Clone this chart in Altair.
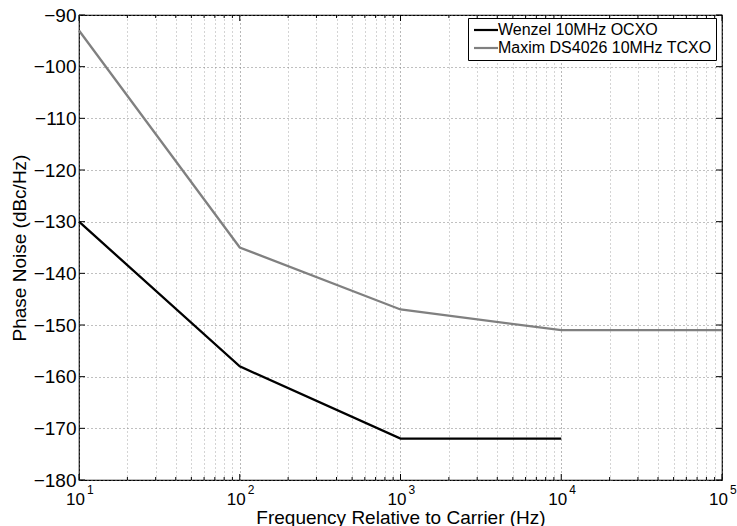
import altair as alt
import pandas as pd

# Phase noise curves (dBc/Hz) at offsets from the carrier (Hz)
ocxo_name = "Wenzel 10MHz OCXO"
ocxo_freq = [10, 100, 1000, 10000]
ocxo_pn = [-130, -158, -172, -172]

tcxo_name = "Maxim DS4026 10MHz TCXO"
tcxo_freq = [10, 100, 1000, 10000, 100000]
tcxo_pn = [-93, -135, -147, -151, -151]

decades = [10, 100, 1000, 10000, 100000]
exponents = ["1", "2", "3", "4", "5"]
y_ticks = [-90, -100, -110, -120, -130, -140, -150, -160, -170, -180]

W, H = 643, 465
FONT = "Liberation Sans"

minor = [m * d for d in decades[:-1] for m in range(2, 10)]
all_x = sorted(decades + minor)

curves = pd.DataFrame(
    {"freq": ocxo_freq + tcxo_freq,
     "pn": ocxo_pn + tcxo_pn,
     "series": [ocxo_name] * len(ocxo_freq) + [tcxo_name] * len(tcxo_freq)}
)
major_df = pd.DataFrame({"freq": decades, "exp": exponents, "base": ["10"] * len(decades)})
minor_df = pd.DataFrame({"freq": minor})
ytick_df = pd.DataFrame({"pn": y_ticks})

xscale = alt.Scale(type="log", domain=[10, 100000], nice=False)
yscale = alt.Scale(domain=[-180, -90], nice=False, zero=False)

is_decade = ("log(datum.value)/log(10) % 1 < 0.001 || "
             "log(datum.value)/log(10) % 1 > 0.999")

x_axis = alt.Axis(
    values=all_x, labels=False, ticks=False, domain=False,
    grid=True, gridDash=[1, 3], gridWidth=1,
    gridColor={"condition": {"test": is_decade, "value": "#707070"}, "value": "#a8a8a8"},
    title="Frequency Relative to Carrier (Hz)", titleFont=FONT, titleFontSize=19,
    titleFontWeight="normal", titleColor="black", titleBaseline="alphabetic", titleY=43,
)
y_axis = alt.Axis(
    values=y_ticks, ticks=False, domain=False, labelFont=FONT, labelFontSize=19,
    labelColor="black", labelPadding=3,
    grid=True, gridDash=[1, 3], gridColor="#808080", gridWidth=1,
    title="Phase Noise (dBc/Hz)", titleFont=FONT, titleFontSize=19,
    titleFontWeight="normal", titleColor="black", titleBaseline="alphabetic", titleX=-54,
)

lines = alt.Chart(curves).mark_line(strokeWidth=2.3).encode(
    x=alt.X("freq:Q", scale=xscale, axis=x_axis),
    y=alt.Y("pn:Q", scale=yscale, axis=y_axis),
    color=alt.Color(
        "series:N",
        scale=alt.Scale(domain=[ocxo_name, tcxo_name], range=["#000000", "#808080"]),
        legend=alt.Legend(
            title=None, orient="none", legendX=389, legendY=3,
            symbolType="M-3,0H3", symbolSize=64, symbolStrokeWidth=2.2,
            symbolOffset=6, labelOffset=4,
            labelFont=FONT, labelFontSize=16, labelColor="black",
            fillColor="white", strokeColor="black", padding=4, rowPadding=2,
            labelLimit=400,
        ),
    ),
)

# inward tick marks on all four sides
xb = alt.X("freq:Q", scale=xscale)
maj_bot = alt.Chart(major_df).mark_rule(color="black").encode(x=xb, y=alt.value(H), y2=alt.value(H - 6))
maj_top = alt.Chart(major_df).mark_rule(color="black").encode(x=xb, y=alt.value(0), y2=alt.value(6))
min_bot = alt.Chart(minor_df).mark_rule(color="black").encode(x=xb, y=alt.value(H), y2=alt.value(H - 3))
min_top = alt.Chart(minor_df).mark_rule(color="black").encode(x=xb, y=alt.value(0), y2=alt.value(3))
yb = alt.Y("pn:Q", scale=yscale)
y_left = alt.Chart(ytick_df).mark_rule(color="black").encode(y=yb, x=alt.value(0), x2=alt.value(6))
y_right = alt.Chart(ytick_df).mark_rule(color="black").encode(y=yb, x=alt.value(W), x2=alt.value(W - 6))

# x tick labels written as powers of ten
base_txt = alt.Chart(major_df).mark_text(
    font=FONT, fontSize=17, align="right", baseline="alphabetic", dx=6, dy=25, color="black"
).encode(x=xb, y=alt.value(H), text="base:N")
exp_txt = alt.Chart(major_df).mark_text(
    font=FONT, fontSize=12, align="left", baseline="alphabetic", dx=8, dy=14, color="black"
).encode(x=xb, y=alt.value(H), text="exp:N")

chart = alt.layer(
    lines, maj_bot, maj_top, min_bot, min_top, y_left, y_right, base_txt, exp_txt
).properties(
    width=W, height=H,
    autosize=alt.AutoSizeParams(type="none"),
    padding={"left": 79, "top": 15, "right": 15, "bottom": 46},
    background="white",
).configure_view(stroke="black", strokeWidth=1.2)

chart.save("out.html", embed_options={"renderer": "svg", "actions": False})
